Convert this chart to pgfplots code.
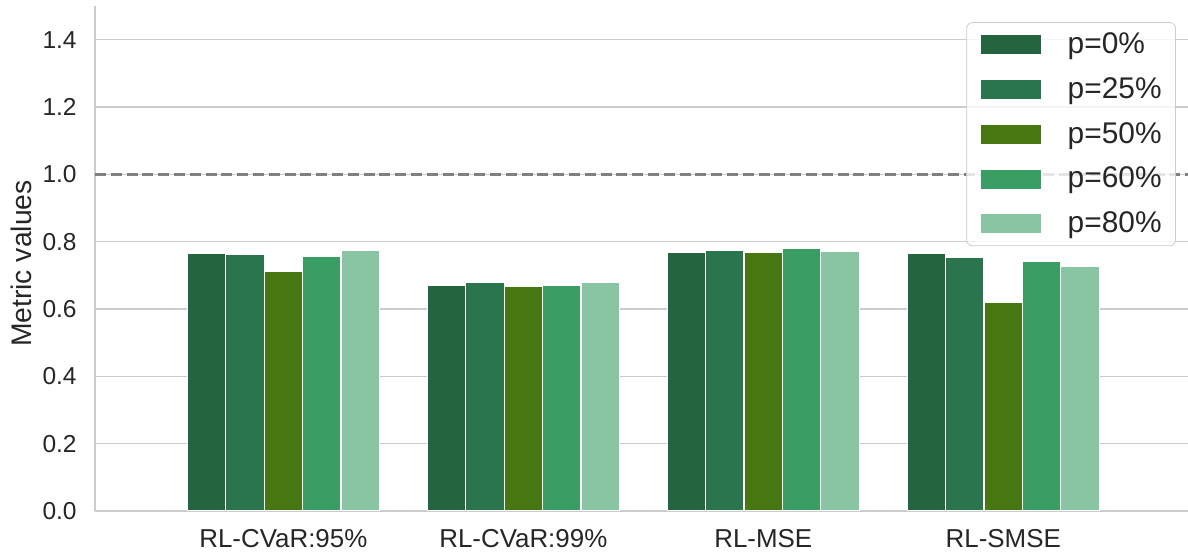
\documentclass[border=0pt]{standalone}
\usepackage{pgfplots}
\pgfplotsset{compat=1.18}
\usepackage{fontspec}
\setmainfont{Liberation Sans}

\definecolor{c1}{HTML}{246540}
\definecolor{c2}{HTML}{2A754D}
\definecolor{c3}{HTML}{487612}
\definecolor{c4}{HTML}{3A9D63}
\definecolor{c5}{HTML}{89C5A3}
\definecolor{spine}{HTML}{CCCCCC}
\definecolor{txt}{HTML}{262626}

\begin{document}
\begin{tikzpicture}
\begin{axis}[
    name=ax,
    scale only axis,
    width=546.5bp, height=252.5bp,
    xmin=-0.785, xmax=3.77,
    ymin=0, ymax=1.5,
    ybar, bar width=0.16,
    xtick={0,1,2,3},
    xticklabels={RL-CVaR:95\%, RL-CVaR:99\%, RL-MSE, RL-SMSE},
    ytick={0,0.2,...,1.4},
    /pgf/number format/fixed,
    /pgf/number format/fixed zerofill,
    /pgf/number format/precision=1,
    /pgf/number format/assume math mode=true,
    tick style={draw=none},
    major tick length=0pt,
    axis lines*=left,
    axis line style={spine, line width=1bp, -},
    ymajorgrids,
    grid style={spine, line width=0.75bp},
    tick label style={text=txt},
    yticklabel style={font=\fontsize{12.3}{14}\selectfont, inner sep=0pt, xshift=-9bp},
    xticklabel style={font=\fontsize{13}{15}\selectfont, inner sep=0pt, yshift=-9bp},
    ylabel={Metric values},
    every axis y label/.style={at={(axis description cs:-0.0677,0.49)}, anchor=center, rotate=90,
        font=\fontsize{14.2}{16}\selectfont, text=txt},
    legend style={
        at={(0.989,0.968)}, anchor=north east,
        draw=spine, rounded corners=3bp, fill=white, fill opacity=0.8, text opacity=1,
        font=\fontsize{15}{18}\selectfont, text=txt,
        inner xsep=7bp, inner ysep=5bp,
        row sep=10.5bp,
        nodes={inner ysep=0pt, inner xsep=0pt},
        /tikz/every odd column/.append style={column sep=13.5bp},
    },
    legend cell align=left,
    legend image code/.code={\fill[#1,draw=none,sharp corners,fill opacity=1] (0bp,-4.75bp) rectangle (30bp,4.75bp);},
]
\draw[color={rgb,255:red,128;green,128;blue,128}, dash pattern=on 5.5bp off 2.4bp, line width=1.2bp]
    (axis cs:-0.785,1.0) -- (axis cs:3.77,1.0);
\addplot[fill=c1, draw=white, line width=0.6bp, bar shift=-0.32] coordinates {(0,0.764) (1,0.670) (2,0.767) (3,0.766)};
\addplot[fill=c2, draw=white, line width=0.6bp, bar shift=-0.16] coordinates {(0,0.761) (1,0.679) (2,0.773) (3,0.752)};
\addplot[fill=c3, draw=white, line width=0.6bp, bar shift=0]     coordinates {(0,0.7125) (1,0.667) (2,0.767) (3,0.621)};
\addplot[fill=c4, draw=white, line width=0.6bp, bar shift=0.16]  coordinates {(0,0.757) (1,0.671) (2,0.779) (3,0.740)};
\addplot[fill=c5, draw=white, line width=0.6bp, bar shift=0.32]  coordinates {(0,0.774) (1,0.680) (2,0.771) (3,0.728)};
\legend{p=0\%, p=25\%, p=50\%, p=60\%, p=80\%}
\end{axis}
\pgfresetboundingbox
\path[use as bounding box] ([shift={(-47.5bp,-20.5bp)}]ax.south west) rectangle ([shift={(0bp,3bp)}]ax.north east);
\end{tikzpicture}
\end{document}
